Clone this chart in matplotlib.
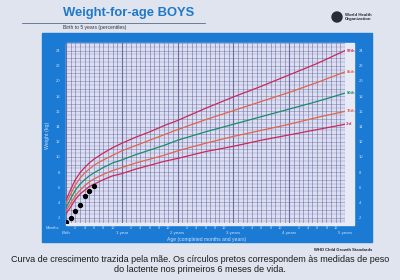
import numpy as np
import matplotlib
matplotlib.use("Agg")
import matplotlib.pyplot as plt
from matplotlib.patches import Rectangle, Circle

plt.rcParams['font.family'] = ['Liberation Sans', 'DejaVu Sans']

# WHO weight-for-age, boys, birth to 5 years (kg)
months = [0, 1, 2, 3, 4, 5, 6, 8, 10, 12, 15, 18, 21, 24, 30, 36, 42, 48, 54, 60]
p3 = [2.5, 3.4, 4.4, 5.1, 5.6, 6.1, 6.4, 7.0, 7.5, 7.8, 8.4, 8.9, 9.4, 9.8, 10.7, 11.4, 12.2, 12.9, 13.6, 14.3]
p15 = [2.9, 3.9, 4.9, 5.6, 6.2, 6.7, 7.1, 7.7, 8.2, 8.6, 9.2, 9.7, 10.2, 10.8, 11.8, 12.7, 13.5, 14.3, 15.2, 16.0]
p50 = [3.3, 4.5, 5.6, 6.4, 7.0, 7.5, 7.9, 8.6, 9.2, 9.6, 10.3, 10.9, 11.5, 12.2, 13.3, 14.3, 15.3, 16.3, 17.3, 18.4]
p85 = [3.9, 5.1, 6.3, 7.2, 7.9, 8.4, 8.9, 9.6, 10.2, 10.8, 11.5, 12.2, 12.9, 13.6, 14.9, 16.1, 17.3, 18.5, 19.8, 21.2]
p97 = [4.3, 5.7, 7.0, 7.9, 8.6, 9.2, 9.7, 10.5, 11.2, 11.8, 12.6, 13.3, 14.1, 14.8, 16.4, 17.9, 19.3, 20.8, 22.3, 24.0]

# baby's weights, first 6 months
baby_months = [0, 1, 2, 3, 4, 5, 6]
baby_kg = [1.4, 2.0, 2.9, 3.7, 4.8, 5.5, 6.2]

curve_names = ['97th', '85th', '50th', '15th', '3rd']
curve_colors = ['#c8285e', '#e0644e', '#1a8a70', '#e0644e', '#c8285e']
y_ticks = [2, 4, 6, 8, 10, 12, 14, 16, 18, 20, 22, 24]
year_labels = ['Birth', '1 year', '2 years', '3 years', '4 years', '5 years']

BLUE = '#1a7ad4'
LIGHT = '#cfe1f7'

fig = plt.figure(figsize=(4, 2.8), dpi=100)
fig.patch.set_facecolor('#dfe4ee')

# background layer in pixel coords
bg = fig.add_axes([0, 0, 1, 1])
bg.set_xlim(0, 400)
bg.set_ylim(280, 0)
bg.axis('off')
bg.add_patch(Rectangle((42, 33), 330, 209, color=BLUE, zorder=1))
bg.add_patch(Rectangle((66, 43), 288, 182, color='#e8eaf6', zorder=2))

bg.text(63, 13, 'Weight-for-age BOYS', color='#1f78c8', fontsize=9.4,
        fontweight='bold', va='center', ha='left')
bg.plot([22, 205], [23, 23], color='#5a6a90', lw=0.6)
bg.text(63, 27, 'Birth to 5 years (percentiles)', color='#333344', fontsize=3.6,
        va='center', ha='left')
bg.add_patch(Circle((337, 17), 5, color='#2a2a3a', zorder=3))
bg.text(345, 17, 'World Health\nOrganization', color='#2a2a3a', fontsize=3.2,
        fontweight='bold', va='center', ha='left', linespacing=1.0)

bg.text(48, 135, 'Weight (kg)', color=LIGHT, fontsize=3.8, rotation=90,
        va='center', ha='center')
bg.text(52, 228, 'Months', color=LIGHT, fontsize=3.0, va='center', ha='center')
bg.text(207, 240, 'Age (completed months and years)', color=LIGHT, fontsize=3.6,
        va='center', ha='center')
bg.text(372, 250, 'WHO Child Growth Standards', color='#222233', fontsize=3.0,
        fontweight='bold', va='center', ha='right')

bg.text(200, 259, 'Curva de crescimento trazida pela mãe. Os círculos pretos '
        'correspondem às medidas de peso', color='#1a1a1a', fontsize=6.5,
        va='center', ha='center')
bg.text(200, 270, 'do lactente nos primeiros 6 meses de vida.', color='#1a1a1a',
        fontsize=6.5, va='center', ha='center')

# chart area
ax = fig.add_axes([66 / 400, 1 - 223 / 280, (345 - 66) / 400, (223 - 43) / 280])
ax.set_facecolor('#dcdff2')
ax.set_xlim(0, 60)
ax.set_ylim(1.3, 25)
for s in ax.spines.values():
    s.set_visible(False)

for m in range(0, 61):
    lw = 0.8 if m % 12 == 0 else 0.4
    ax.axvline(m, color='#4a4a86', lw=lw, alpha=0.75, zorder=1)
for k in np.arange(1.5, 25.01, 0.5):
    lw = 0.45 if k % 1 == 0 else 0.3
    ax.axhline(k, color='#5a5a94', lw=lw, alpha=0.6, zorder=1)

series = [p97, p85, p50, p15, p3]
for name, vals, col in zip(curve_names, series, curve_colors):
    ax.plot(months, vals, color=col, lw=0.9, zorder=3)
    ax.text(60.3, vals[-1], name, color=col, fontsize=3.0, fontweight='bold',
            va='center', ha='left', clip_on=False)

ax.plot(baby_months, baby_kg, 'o', color='black', ms=2.8, zorder=4)

ax.set_yticks(y_ticks)
ax.set_yticklabels([str(v) for v in y_ticks])
ax.tick_params(axis='y', length=0, labelsize=3, labelcolor=LIGHT, pad=4)

# right-hand kg scale sits outside the label strip
axr = ax.twinx()
axr.set_ylim(ax.get_ylim())
axr.set_yticks(y_ticks)
axr.set_yticklabels([str(v) for v in y_ticks])
axr.tick_params(axis='y', length=0, labelsize=3, labelcolor=LIGHT, pad=10)
for s in axr.spines.values():
    s.set_visible(False)

ax.set_xticks([0, 12, 24, 36, 48, 60])
ax.set_xticklabels(year_labels)
minor = [m for m in range(2, 60, 2) if m % 12 != 0]
ax.set_xticks(minor, minor=True)
ax.set_xticklabels([str(m % 12) for m in minor], minor=True)
ax.tick_params(axis='x', which='major', length=0, labelsize=3.2,
               labelcolor=LIGHT, pad=6)
ax.tick_params(axis='x', which='minor', length=0, labelsize=2.8,
               labelcolor=LIGHT, pad=2.5)

fig.savefig('out.png', dpi=100, facecolor=fig.get_facecolor())
